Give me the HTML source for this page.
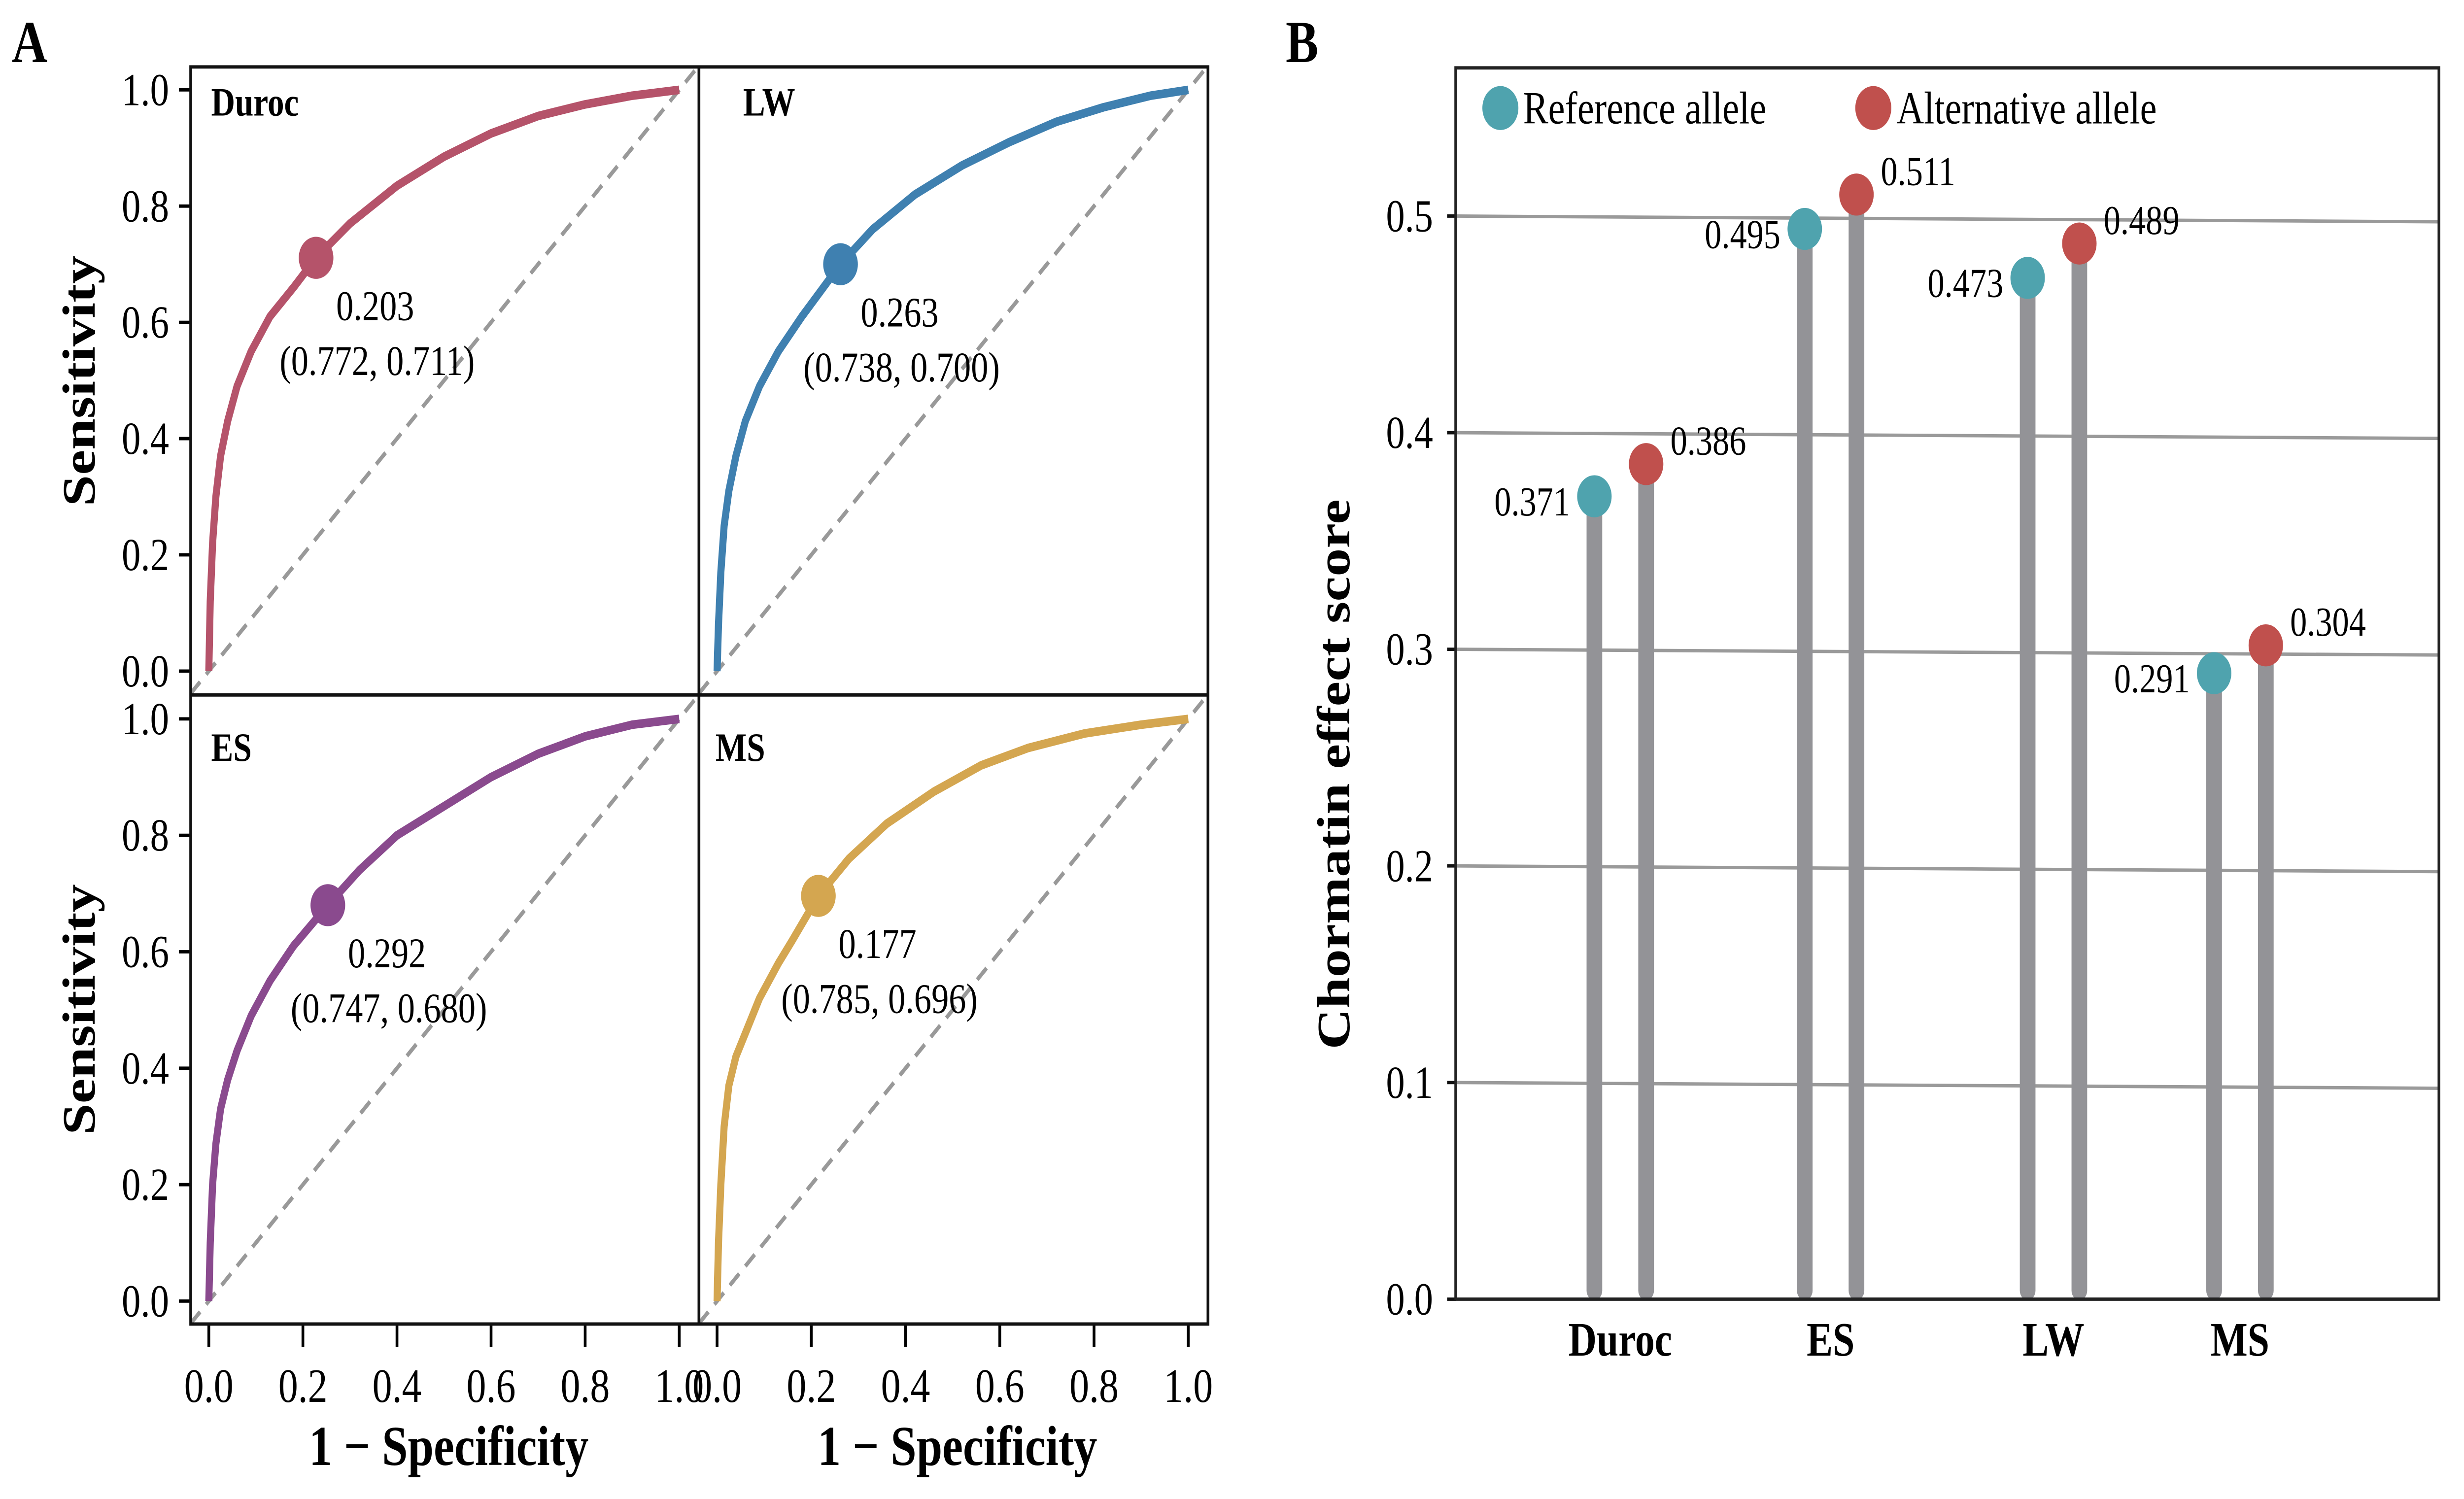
<!DOCTYPE html>
<html><head><meta charset="utf-8"><style>
html,body{margin:0;padding:0;background:#fff;width:100%;height:100%;overflow:hidden}
svg{display:block;font-family:"Liberation Serif",serif;width:100vw;height:100vh}
</style></head><body>
<svg id="fig" viewBox="0 0 6182 3042" preserveAspectRatio="none" xmlns="http://www.w3.org/2000/svg">
<rect width="6182" height="3042" fill="#fff"/>
<g transform="scale(0.9885,0.97)">
<text x="30" y="130" font-size="125" font-weight="bold">A</text>
<g id="pa"></g>
</g>
<g transform="translate(3100,0) scale(0.9828,0.97) translate(-3100,0)">
<text x="3228" y="130" font-size="125" font-weight="bold">B</text>
<g id="pb"></g>
</g>
</svg>
<script>
// ---- Panel A data ----
const rocNames = ["Duroc","LW","ES","MS"];
const rocColors = ["#b5536a","#3f80b0","#8a4a8e","#d4a650"];
const rocFpr = [
 [0,0.003,0.008,0.015,0.025,0.04,0.06,0.09,0.13,0.18,0.228,0.3,0.4,0.5,0.6,0.7,0.8,0.9,1],
 [0,0.003,0.008,0.015,0.025,0.04,0.06,0.09,0.13,0.18,0.262,0.33,0.42,0.52,0.62,0.72,0.82,0.92,1],
 [0,0.003,0.008,0.015,0.025,0.04,0.06,0.09,0.13,0.18,0.253,0.32,0.4,0.5,0.6,0.7,0.8,0.9,1],
 [0,0.003,0.008,0.015,0.025,0.04,0.06,0.09,0.13,0.16,0.215,0.28,0.36,0.46,0.56,0.66,0.78,0.9,1]
];
const rocTpr = [
 [0,0.12,0.22,0.3,0.37,0.43,0.49,0.55,0.61,0.66,0.711,0.77,0.835,0.885,0.925,0.955,0.975,0.99,1],
 [0,0.08,0.17,0.25,0.31,0.37,0.43,0.49,0.55,0.61,0.700,0.76,0.82,0.87,0.91,0.945,0.97,0.99,1],
 [0,0.1,0.2,0.27,0.33,0.38,0.43,0.49,0.55,0.61,0.680,0.74,0.8,0.85,0.9,0.94,0.97,0.99,1],
 [0,0.1,0.2,0.3,0.37,0.42,0.46,0.52,0.58,0.62,0.696,0.76,0.82,0.875,0.92,0.95,0.975,0.99,1]
];
const cutX = [0.228,0.262,0.253,0.215];
const cutY = [0.711,0.700,0.680,0.696];
const cutLabel = ["0.203","0.263","0.292","0.177"];
const cutPair = ["(0.772, 0.711)","(0.738, 0.700)","(0.747, 0.680)","(0.785, 0.696)"];
const rocTicks = ["0.0","0.2","0.4","0.6","0.8","1.0"];

// ---- Panel B data ----
const cats = ["Duroc","ES","LW","MS"];
const refVals = [0.371,0.495,0.473,0.291];
const altVals = [0.386,0.511,0.489,0.304];
const bTicks = ["0.0","0.1","0.2","0.3","0.4","0.5"];

const NS="http://www.w3.org/2000/svg";
function mk(p,tag,attrs,txt){const e=document.createElementNS(NS,tag);for(const k in attrs)e.setAttribute(k,attrs[k]);if(txt!==undefined)e.textContent=txt;p.appendChild(e);return e;}

// Panel A
const pa=document.getElementById('pa');
const panels=[{x0:530,x1:1724,y0:1404,y1:188,fl:484,fr:1774,ft:140,fb:1454,lx:536,ly:242},
 {x0:1820,x1:3016,y0:1404,y1:188,fl:1774,fr:3066,ft:140,fb:1454,lx:1886,ly:242},
 {x0:530,x1:1724,y0:2722,y1:1504,fl:484,fr:1774,ft:1454,fb:2770,lx:536,ly:1592},
 {x0:1820,x1:3016,y0:2722,y1:1504,fl:1774,fr:3066,ft:1454,fb:2770,lx:1816,ly:1592}];
panels.forEach((P,i)=>{
 const sx=v=>P.x0+v*(P.x1-P.x0), sy=v=>P.y0+v*(P.y1-P.y0);
 const g=mk(pa,'g',{});
 
 
 const d=mk(g,'line',{x1:P.fl,y1:sy((P.fl-P.x0)/(P.x1-P.x0)),x2:P.fr,y2:sy((P.fr-P.x0)/(P.x1-P.x0)),stroke:'#999',"stroke-width":9,"stroke-dasharray":"34 22"});
 
 
 let pts=rocFpr[i].map((v,j)=>sx(v)+','+sy(rocTpr[i][j])).join(' ');
 const c=mk(g,'polyline',{points:pts,fill:'none',stroke:rocColors[i],"stroke-width":18,"stroke-linejoin":"round"});
 
 
 const m=mk(g,'circle',{cx:sx(cutX[i]),cy:sy(cutY[i]),r:44,fill:rocColors[i]});
 
 
 const t1=mk(g,'text',{x:sx(cutX[i])+150,y:sy(cutY[i])+130,"font-size":88,"text-anchor":"middle"},cutLabel[i]);
 
 
 const t2=mk(g,'text',{x:sx(cutX[i])+155,y:sy(cutY[i])+245,"font-size":88,"text-anchor":"middle"},cutPair[i]);
 
 
 const nm=mk(g,'text',{x:P.lx,y:P.ly,"font-size":84,"font-weight":"bold"},rocNames[i]);
 
 
 if(i===0||i===2){
  rocTicks.forEach((t,k)=>{const v=k/5;
   mk(g,'line',{x1:P.fl-30,y1:sy(v),x2:P.fl,y2:sy(v),stroke:'#000',"stroke-width":7});
   const tl=mk(g,'text',{x:P.fl-55,y:sy(v)+32,"font-size":96,"text-anchor":"end"},t);
   
   });
  const yl=mk(g,'text',{x:0,y:0,"font-size":118,"font-weight":"bold","text-anchor":"middle",transform:`translate(240,${(P.ft+P.fb)/2}) rotate(-90)`},'Sensitivity');
  
  
 }
 if(i>=2){
  rocTicks.forEach((t,k)=>{const v=k/5;
   mk(g,'line',{x1:sx(v),y1:P.fb,x2:sx(v),y2:P.fb+48,stroke:'#000',"stroke-width":7});
   const tl=mk(g,'text',{x:sx(v),y:2933,"font-size":100,"text-anchor":"middle"},t);
   
   });
  const xl=mk(g,'text',{x:(P.fl+P.fr)/2+10,y:3065,"font-size":118,"font-weight":"bold","text-anchor":"middle"},'1 − Specificity');
  
  
 }
});
mk(pa,'rect',{x:484,y:140,width:2582,height:2630,fill:'none',stroke:'#111',"stroke-width":7});
mk(pa,'line',{x1:1774,y1:140,x2:1774,y2:2770,stroke:'#111',"stroke-width":7});
mk(pa,'line',{x1:484,y1:1454,x2:3066,y2:1454,stroke:'#111',"stroke-width":7});

// Panel B
const pb=document.getElementById('pb');
const L=3662,R=6172,T=142,B=2718, y0=2718, y05=452;
const by=v=>y0+v/0.5*(y05-y0);
const slant=x=>(x-L)/(R-L)*12;
bTicks.forEach((t,k)=>{const v=k*0.1;
 if(k>0){const gl=mk(pb,'line',{x1:L,y1:by(v),x2:R,y2:by(v)+12,stroke:'#9a9a9a',"stroke-width":7});
  
  }
 mk(pb,'line',{x1:L-22,y1:by(v),x2:L,y2:by(v),stroke:'#111',"stroke-width":7});
 const tl=mk(pb,'text',{x:3604,y:by(v)+32,"font-size":96,"text-anchor":"end"},t);
 
 
});
const catX=[4082,4619,5188,5664];
const gap=66;
cats.forEach((c,i)=>{
 const xr=catX[i]-gap, xa=catX[i]+gap;
 const s1=mk(pb,'line',{x1:xr,y1:2700,x2:xr,y2:by(refVals[i]),stroke:'#939397',"stroke-width":40,"stroke-linecap":"round"});
 
 
 const s2=mk(pb,'line',{x1:xa,y1:2700,x2:xa,y2:by(altVals[i]),stroke:'#939397',"stroke-width":40,"stroke-linecap":"round"});
 
 
 const d1=mk(pb,'circle',{cx:xr,cy:by(refVals[i])+slant(xr),r:44,fill:'#4fa3ae'});
 
 
 const d2=mk(pb,'circle',{cx:xa,cy:by(altVals[i])+slant(xa),r:44,fill:'#c0504d'});
 
 
 const l1=mk(pb,'text',{x:xr-62,y:by(refVals[i])+slant(xr)+40,"font-size":86,"text-anchor":"end"},refVals[i].toFixed(3));
 
 
 const l2=mk(pb,'text',{x:xa+62,y:by(altVals[i])+slant(xa)-20,"font-size":86},altVals[i].toFixed(3));
 
 
 const cl=mk(pb,'text',{x:catX[i],y:2836,"font-size":100,"font-weight":"bold","text-anchor":"middle"},c);
 
 
});
mk(pb,'rect',{x:L,y:T,width:R-L,height:B-T,fill:'none',stroke:'#222',"stroke-width":7});
const yl=mk(pb,'text',{x:0,y:0,"font-size":118,"font-weight":"bold","text-anchor":"middle",transform:'translate(3390,1620) rotate(-90)'},'Chormatin  effect  score');


const lg=mk(pb,'g',{});


mk(lg,'circle',{cx:3776,cy:226,r:46,fill:'#4fa3ae'});
const lt1=mk(lg,'text',{x:3834,y:258,"font-size":96},'Reference allele');


mk(lg,'circle',{cx:4728,cy:226,r:46,fill:'#c0504d'});
const lt2=mk(lg,'text',{x:4788,y:258,"font-size":96},'Alternative allele');


</script>
</body></html>
